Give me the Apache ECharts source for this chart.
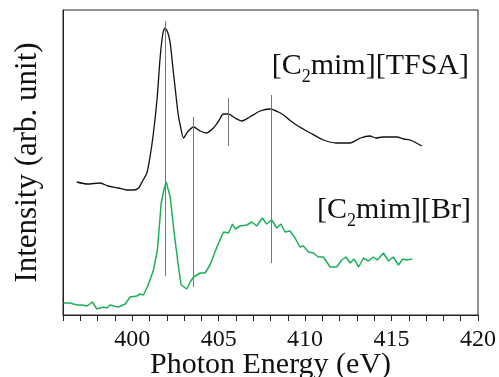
<!DOCTYPE html>
<html>
<head>
<meta charset="utf-8">
<script src="https://cdn.jsdelivr.net/npm/echarts@6/dist/echarts.min.js"></script>
<style>
  html, body { margin: 0; padding: 0; background: #fff; }
  #chart { width: 499px; height: 377px; }
</style>
</head>
<body>
<div id="chart"></div>
<script>
// photon energy (eV) and intensity (arb. unit, 0 = frame bottom)
const tfsaEnergy = [396.8, 397.4, 398.15, 398.6, 399.2, 399.7, 400.1, 400.37, 400.6, 400.85, 401.05, 401.23, 401.45, 401.62, 401.78, 401.9, 402.05, 402.2, 402.35, 402.5, 402.65, 402.8, 402.97, 403.2, 403.55, 403.93, 404.3, 404.7, 405.0, 405.28, 405.57, 405.95, 406.34, 406.8, 407.4, 407.98, 408.46, 408.75, 409.1, 409.5, 410.3, 411.06, 411.8, 412.3, 412.6, 413.2, 413.75, 414.1, 414.5, 415.3, 415.7, 416.07, 416.75];
const tfsaIntensity = [133, 131, 132, 129, 127, 125, 125, 127, 134, 142, 160, 182, 218, 258, 282, 287, 283, 272, 248, 225, 202, 188, 177, 183, 188, 184, 182, 187, 194, 201, 201, 197, 194, 198, 204, 206, 203, 200, 195, 190, 182, 175, 172, 172, 172, 177, 179, 177, 178, 178, 176, 175, 169];

const brEnergy = [396.03, 396.4, 396.8, 397.1, 397.4, 397.7, 397.96, 398.15, 398.34, 398.54, 398.73, 398.95, 399.2, 399.6, 399.88, 400.27, 400.46, 400.65, 400.88, 401.05, 401.23, 401.46, 401.68, 401.85, 401.97, 402.2, 402.43, 402.68, 402.83, 403.16, 403.35, 403.55, 403.93, 404.22, 404.5, 404.9, 405.28, 405.57, 405.8, 405.95, 406.24, 406.63, 406.92, 407.2, 407.53, 407.78, 408.07, 408.36, 408.6, 408.84, 409.13, 409.42, 409.7, 409.9, 410.2, 410.48, 410.77, 411.06, 411.45, 411.83, 412.12, 412.37, 412.6, 412.83, 413.1, 413.37, 413.66, 413.95, 414.18, 414.53, 414.82, 415.1, 415.4, 415.65, 415.88, 416.2];
const brIntensity = [12, 12, 10, 10, 9, 13, 6, 7, 8, 7, 10, 9, 8, 11, 18, 19, 21, 20, 28, 36, 45, 65, 112, 126, 133, 118, 82, 48, 30, 26, 33, 38, 42, 42, 50, 68, 83, 82, 91, 86, 89, 90, 93, 89, 97, 91, 95, 87, 91, 83, 84, 77, 68, 69, 63, 62, 58, 58, 48, 48, 55, 58, 52, 56, 48, 57, 54, 58, 55, 62, 54, 58, 50, 56, 55, 56];

// reference lines: energy, lower and upper intensity
const refEnergy = [401.93, 403.55, 405.55, 408.05];
const refLow = [39, 28, 169, 52];
const refHigh = [294, 198, 217, 220];

const xTickValues = [396, 397, 398, 399, 400, 401, 402, 403, 404, 405, 406, 407, 408, 409, 410, 411, 412, 413, 414, 415, 416, 417, 418, 419, 420];
const xTickLabels = [400, 405, 410, 415, 420];

const serif = '"Liberation Serif", "DejaVu Serif", serif';

const chart = echarts.init(document.getElementById('chart'));

const zip = (xs, ys) => xs.map((x, i) => [x, ys[i]]);

// subscript via a tall sub token aligned to the line bottom
const labelRich = {
    sub: { fontFamily: serif, fontSize: 18, lineHeight: 40, verticalAlign: 'bottom' },
};

chart.setOption({
    animation: false,
    grid: {
        left: 63,
        right: 21,
        top: 10,
        bottom: 62,
        outerBoundsMode: 'none',
        show: true,
        borderColor: '#222',
        borderWidth: 1,
    },
    xAxis: {
        type: 'value',
        min: 396,
        max: 420,
        name: 'Photon Energy (eV)',
        nameLocation: 'middle',
        nameGap: 35,
        nameMoveOverlap: false,
        nameTextStyle: { fontFamily: serif, fontSize: 30, color: '#111' },
        axisLine: { show: true, lineStyle: { color: '#222', width: 1 } },
        axisTick: {
            show: true,
            length: 6,
            customValues: xTickValues,
            lineStyle: { color: '#222' },
        },
        axisLabel: {
            customValues: xTickLabels,
            fontFamily: serif,
            fontSize: 24,
            color: '#111',
            margin: 13,
        },
        splitLine: { show: false },
    },
    yAxis: {
        type: 'value',
        min: 0,
        max: 305,
        name: 'Intensity (arb. unit)',
        nameLocation: 'middle',
        nameGap: 20,
        nameMoveOverlap: false,
        nameTextStyle: { fontFamily: serif, fontSize: 31, color: '#111' },
        axisLine: { show: true, lineStyle: { color: '#222', width: 1 } },
        axisTick: { show: false },
        axisLabel: { show: false },
        splitLine: { show: false },
    },
    series: [
        {
            name: 'TFSA',
            type: 'line',
            data: zip(tfsaEnergy, tfsaIntensity),
            showSymbol: false,
            smooth: 0.25,
            lineStyle: { color: '#111', width: 1.3 },
            z: 3,
        },
        {
            name: 'Br',
            type: 'line',
            data: zip(brEnergy, brIntensity),
            showSymbol: false,
            lineStyle: { color: '#1cb05a', width: 1.5 },
            z: 3,
            markLine: {
                silent: true,
                symbol: 'none',
                label: { show: false },
                lineStyle: { color: '#777', width: 1, type: 'solid' },
                data: refEnergy.map((e, i) => [
                    { coord: [e, refLow[i]] },
                    { coord: [e, refHigh[i]] },
                ]),
            },
        },
    ],
    graphic: [
        {
            type: 'text',
            right: 30,
            top: 51,
            style: {
                text: '[C{sub|2}mim][TFSA]',
                fontFamily: serif,
                fontSize: 30,
                fill: '#111',
                rich: labelRich,
            },
        },
        {
            type: 'text',
            right: 28,
            top: 195,
            style: {
                text: '[C{sub|2}mim][Br]',
                fontFamily: serif,
                fontSize: 30,
                fill: '#111',
                rich: labelRich,
            },
        },
    ],
});
</script>
</body>
</html>
